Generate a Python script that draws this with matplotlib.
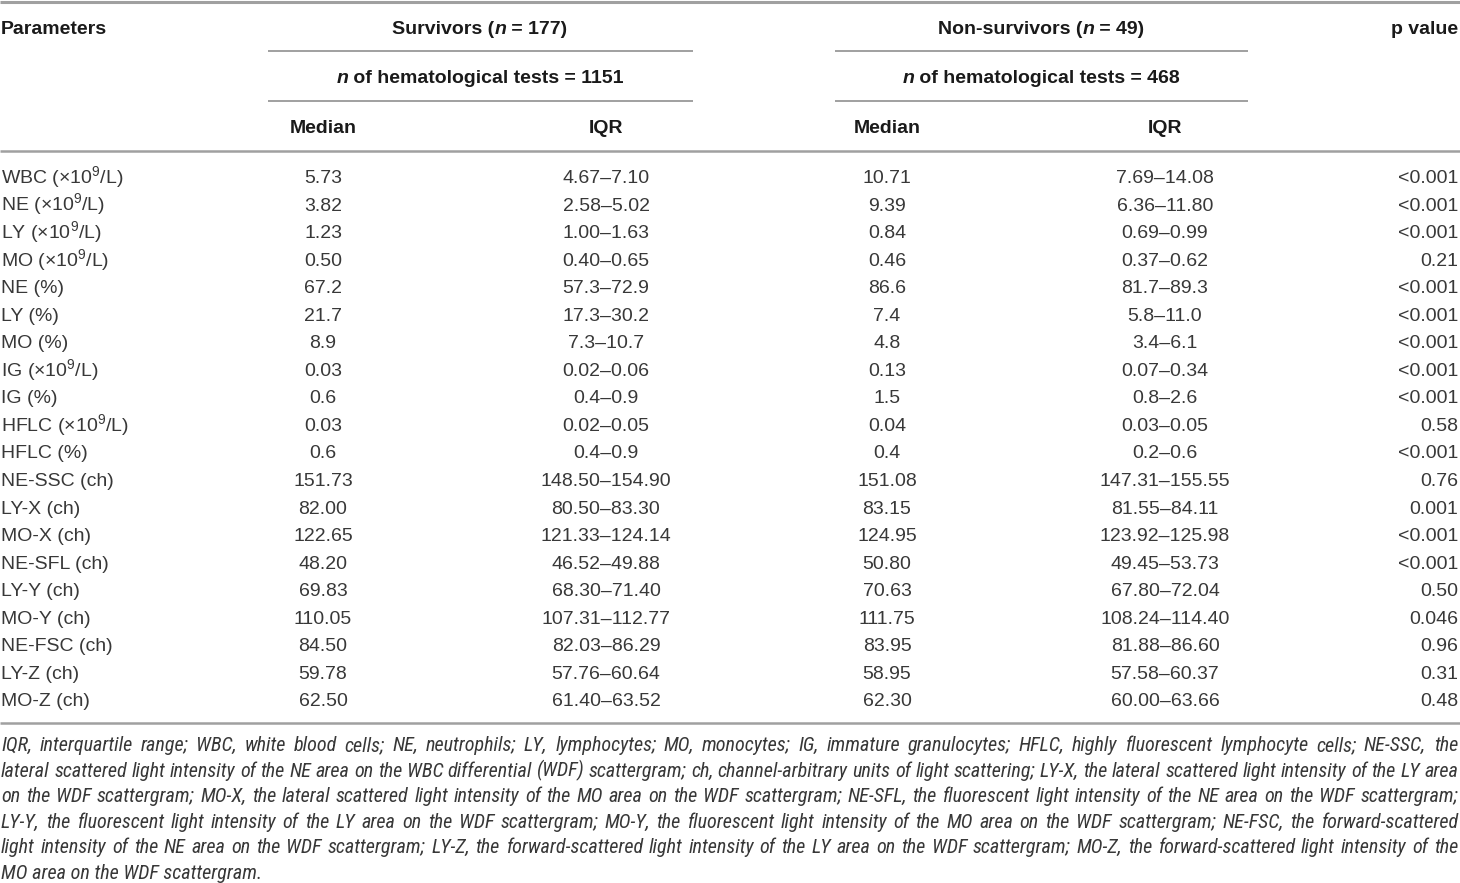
import matplotlib
matplotlib.use("Agg")
import matplotlib.pyplot as plt
from matplotlib import font_manager as fm

# ---------------- data ----------------
params = ["WBC (×10$^{9}$/L)", "NE (×10$^{9}$/L)", "LY (×10$^{9}$/L)", "MO (×10$^{9}$/L)",
          "NE (%)", "LY (%)", "MO (%)", "IG (×10$^{9}$/L)", "IG (%)", "HFLC (×10$^{9}$/L)",
          "HFLC (%)", "NE-SSC (ch)", "LY-X (ch)", "MO-X (ch)", "NE-SFL (ch)", "LY-Y (ch)",
          "MO-Y (ch)", "NE-FSC (ch)", "LY-Z (ch)", "MO-Z (ch)"]
surv_median = ["5.73", "3.82", "1.23", "0.50", "67.2", "21.7", "8.9", "0.03", "0.6", "0.03",
               "0.6", "151.73", "82.00", "122.65", "48.20", "69.83", "110.05", "84.50", "59.78", "62.50"]
surv_iqr = ["4.67–7.10", "2.58–5.02", "1.00–1.63", "0.40–0.65", "57.3–72.9", "17.3–30.2",
            "7.3–10.7", "0.02–0.06", "0.4–0.9", "0.02–0.05", "0.4–0.9", "148.50–154.90",
            "80.50–83.30", "121.33–124.14", "46.52–49.88", "68.30–71.40", "107.31–112.77",
            "82.03–86.29", "57.76–60.64", "61.40–63.52"]
nons_median = ["10.71", "9.39", "0.84", "0.46", "86.6", "7.4", "4.8", "0.13", "1.5", "0.04",
               "0.4", "151.08", "83.15", "124.95", "50.80", "70.63", "111.75", "83.95", "58.95", "62.30"]
nons_iqr = ["7.69–14.08", "6.36–11.80", "0.69–0.99", "0.37–0.62", "81.7–89.3", "5.8–11.0",
            "3.4–6.1", "0.07–0.34", "0.8–2.6", "0.03–0.05", "0.2–0.6", "147.31–155.55",
            "81.55–84.11", "123.92–125.98", "49.45–53.73", "67.80–72.04", "108.24–114.40",
            "81.88–86.60", "57.58–60.37", "60.00–63.66"]
p_values = ["<0.001", "<0.001", "<0.001", "0.21", "<0.001", "<0.001", "<0.001", "<0.001",
            "<0.001", "0.58", "<0.001", "0.76", "0.001", "<0.001", "<0.001", "0.50", "0.046",
            "0.96", "0.31", "0.48"]
footnote_lines = [
    "IQR, interquartile range; WBC, white blood cells; NE, neutrophils; LY, lymphocytes; MO, monocytes; IG, immature granulocytes; HFLC, highly fluorescent lymphocyte cells; NE-SSC, the",
    "lateral scattered light intensity of the NE area on the WBC differential (WDF) scattergram; ch, channel-arbitrary units of light scattering; LY-X, the lateral scattered light intensity of the LY area",
    "on the WDF scattergram; MO-X, the lateral scattered light intensity of the MO area on the WDF scattergram; NE-SFL, the fluorescent light intensity of the NE area on the WDF scattergram;",
    "LY-Y, the fluorescent light intensity of the LY area on the WDF scattergram; MO-Y, the fluorescent light intensity of the MO area on the WDF scattergram; NE-FSC, the forward-scattered",
    "light intensity of the NE area on the WDF scattergram; LY-Z, the forward-scattered light intensity of the LY area on the WDF scattergram; MO-Z, the forward-scattered light intensity of the",
    "MO area on the WDF scattergram.",
]

# ---------------- fonts ----------------
def pick_font(cands):
    for c in cands:
        try:
            fm.findfont(fm.FontProperties(family=c), fallback_to_default=False)
            return c
        except Exception:
            pass
    return "DejaVu Sans"

FONT = pick_font(["Liberation Sans", "Arial", "Roboto"])
NARROW = pick_font(["Liberation Sans Narrow", "Roboto Condensed", "Liberation Sans"])
plt.rcParams["font.family"] = [FONT, "DejaVu Sans"]
plt.rcParams["mathtext.default"] = "regular"

W, H = 1460, 883
fig = plt.figure(figsize=(W / 100, H / 100), dpi=100)
ax = fig.add_axes([0, 0, 1, 1])
ax.set_xlim(0, W)
ax.set_ylim(H, 0)
ax.axis("off")

BODY = "#383838"
HEAD = "#1a1a1a"
LINE = "#a0a0a0"
FS = 14

# lines
def hline(y, x0, x1, lw=1.4):
    ax.plot([x0, x1], [y, y], color=LINE, lw=lw, solid_capstyle="butt")

hline(1.5, 0, W, lw=2.2)
hline(51, 268, 693)
hline(51, 835, 1248)
hline(101, 268, 693)
hline(101, 835, 1248)
hline(151, 0, W, lw=1.8)
hline(723, 0, W, lw=1.8)

fig.canvas.draw()
renderer = fig.canvas.get_renderer()

def width_of(s, **kw):
    t = ax.text(0, 0, s, **kw)
    w = t.get_window_extent(renderer).width
    t.remove()
    return w

def seg_text(xc, y, segs, size=FS, color=HEAD, weight="bold"):
    """Draw a sequence of (text, style) segments centred at xc."""
    widths = [width_of(s, fontsize=size, fontweight=weight, fontstyle=st) for s, st in segs]
    x = xc - sum(widths) / 2
    for (s, st), w in zip(segs, widths):
        ax.text(x, y, s, fontsize=size, fontweight=weight, fontstyle=st,
                color=color, ha="left", va="baseline")
        x += w

# headers (baselines)
hb = [34, 83, 133]
ax.text(1, hb[0], "Parameters", fontsize=FS, fontweight="bold", color=HEAD, ha="left", va="baseline")
seg_text(480, hb[0], [("Survivors (", "normal"), ("n", "italic"), (" = 177)", "normal")])
seg_text(1041, hb[0], [("Non-survivors (", "normal"), ("n", "italic"), (" = 49)", "normal")])
ax.text(1458, hb[0], "p value", fontsize=FS, fontweight="bold", color=HEAD, ha="right", va="baseline")
seg_text(480, hb[1], [("n", "italic"), (" of hematological tests = 1151", "normal")])
seg_text(1041, hb[1], [("n", "italic"), (" of hematological tests = 468", "normal")])

col_x = [323, 606, 887, 1165]
for xc, lab in zip(col_x, ["Median", "IQR", "Median", "IQR"]):
    ax.text(xc, hb[2], lab, fontsize=FS, fontweight="bold", color=HEAD, ha="center", va="baseline")

# body rows
y0, dy = 183, 27.55
for i in range(len(params)):
    yb = y0 + i * dy
    ax.text(1, yb, params[i], fontsize=FS, color=BODY, ha="left", va="baseline")
    ax.text(col_x[0], yb, surv_median[i], fontsize=FS, color=BODY, ha="center", va="baseline")
    ax.text(col_x[1], yb, surv_iqr[i], fontsize=FS, color=BODY, ha="center", va="baseline")
    ax.text(col_x[2], yb, nons_median[i], fontsize=FS, color=BODY, ha="center", va="baseline")
    ax.text(col_x[3], yb, nons_iqr[i], fontsize=FS, color=BODY, ha="center", va="baseline")
    ax.text(1458, yb, p_values[i], fontsize=FS, color=BODY, ha="right", va="baseline")

# footnote, justified; size chosen so the widest line nearly fills the width
x_left, x_right = 1, 1458
FN = 13.0
base_w = max(width_of(l, fontsize=FN, fontstyle="italic", family=NARROW)
             for l in footnote_lines[:-1])
FN = min(FN * (x_right - x_left - 4) / base_w, 16.0)
fy0, fdy = 751, 25.6
for li, line in enumerate(footnote_lines):
    yb = fy0 + li * fdy
    kw = dict(fontsize=FN, fontstyle="italic", family=NARROW)
    if li == len(footnote_lines) - 1:
        ax.text(x_left, yb, line, color=BODY, ha="left", va="baseline", **kw)
        continue
    words = line.split(" ")
    ws = [width_of(w, **kw) for w in words]
    gap = (x_right - x_left - sum(ws)) / (len(words) - 1)
    x = x_left
    for w, wd in zip(words, ws):
        ax.text(x, yb, w, color=BODY, ha="left", va="baseline", **kw)
        x += wd + gap

fig.savefig("out.png", dpi=100, facecolor="white")
